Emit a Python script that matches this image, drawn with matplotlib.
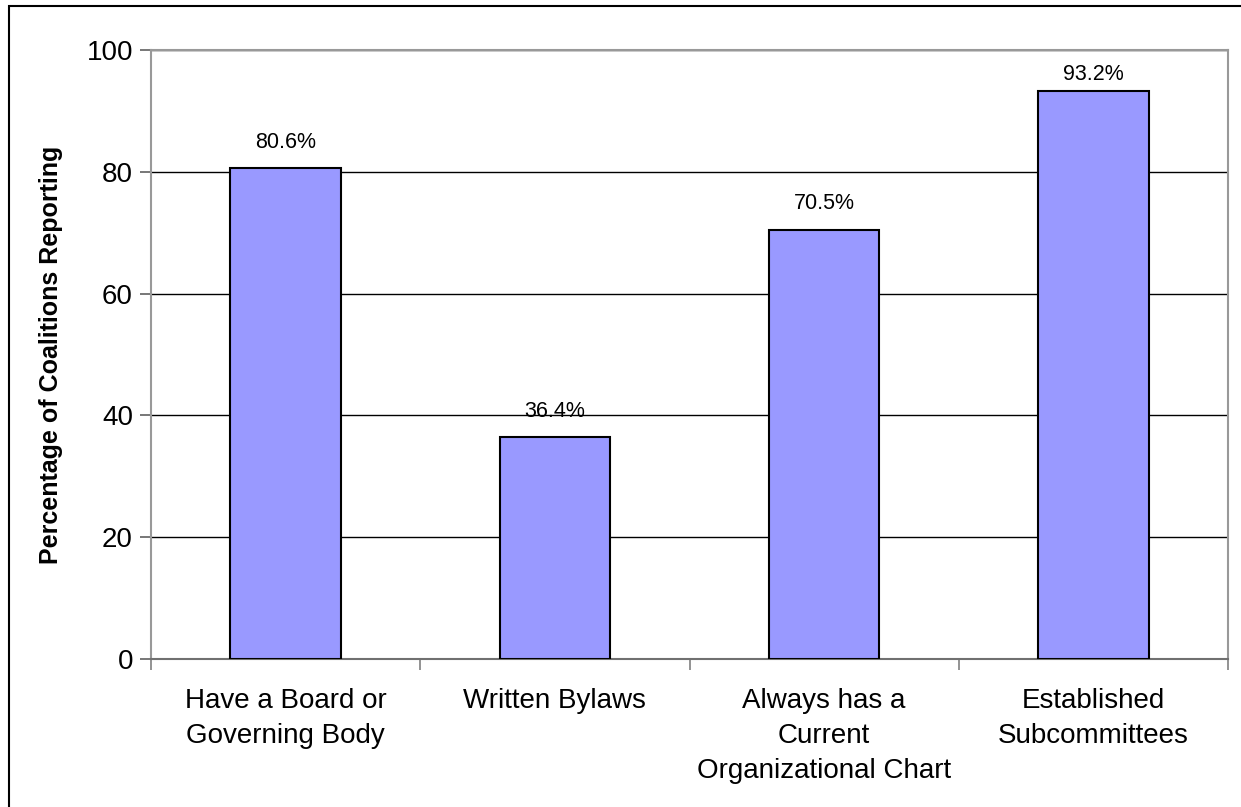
import matplotlib.pyplot as plt
from matplotlib.patches import Rectangle

plt.rcParams['font.family'] = ['Liberation Sans', 'DejaVu Sans']

categories = ["Have a Board or\nGoverning Body", "Written Bylaws",
              "Always has a\nCurrent\nOrganizational Chart",
              "Established\nSubcommittees"]
values = [80.6, 36.4, 70.5, 93.2]
labels = ["80.6%", "36.4%", "70.5%", "93.2%"]
yticks = [0, 20, 40, 60, 80, 100]

fig = plt.figure(figsize=(12.41, 8.07), dpi=100)
ax = fig.add_axes([151 / 1241, 1 - 659 / 807, (1228 - 151) / 1241, (659 - 50) / 807])

x = list(range(len(categories)))
ax.bar(x, values, width=0.41, color="#9999FF", edgecolor="black", linewidth=1.5, zorder=3)
for xi, v, lab in zip(x, values, labels):
    # keep the label inside the plot area
    ax.text(xi, min(v + 2.5, 94.2), lab, ha="center", va="bottom", fontsize=15.5)

ax.set_xlim(-0.5, len(categories) - 0.5)
ax.set_ylim(0, 100)
ax.set_yticks(yticks)
ax.set_yticklabels([str(t) for t in yticks], fontsize=20)
ax.yaxis.grid(True, color="black", linewidth=1)
ax.set_axisbelow(True)

# category labels in between boundary ticks
ax.set_xticks([i - 0.5 for i in range(len(categories) + 1)])
ax.set_xticklabels([])
ax.tick_params(axis="x", direction="out", length=8, color="#808080", width=1.2)
ax.tick_params(axis="y", direction="out", length=8, color="#606060", width=1.2, pad=5)
for xi, cat in zip(x, categories):
    ax.text(xi, -4.7, cat, ha="center", va="top", fontsize=20, linespacing=1.47,
            transform=ax.transData, clip_on=False)

for side in ["top", "right", "left"]:
    ax.spines[side].set_color("#999999")
    ax.spines[side].set_linewidth(1.5)
ax.spines["bottom"].set_color("#707070")
ax.spines["bottom"].set_linewidth(1.5)

ax.set_ylabel("Percentage of Coalitions Reporting", fontsize=18, fontweight="bold", labelpad=17)

# outer chart frame
fig.patches.append(Rectangle((9 / 1241, -0.01), 1.0, 1 - 6 / 807 + 0.01, transform=fig.transFigure,
                             fill=False, edgecolor="black", linewidth=1.5))

fig.savefig("out.png", dpi=100)
